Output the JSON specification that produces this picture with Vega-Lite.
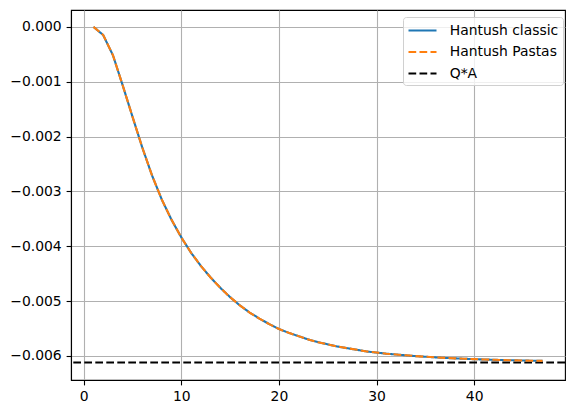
{
  "$schema": "https://vega.github.io/schema/vega-lite/v6.json",
  "width": 494,
  "height": 370,
  "autosize": "none",
  "padding": {"left": 71, "top": 10, "right": 11, "bottom": 33},
  "background": "white",
  "config": {
    "font": "DejaVu Sans",
    "view": {"stroke": "black", "strokeWidth": 1.1},
    "axis": {
      "domainColor": "black",
      "domainWidth": 1.1,
      "tickColor": "black",
      "tickWidth": 1.1,
      "tickSize": 4.9,
      "labelPadding": 4.9,
      "labelFont": "DejaVu Sans",
      "labelFontSize": 13.9,
      "labelColor": "black",
      "gridColor": "#b0b0b0",
      "gridWidth": 1.1,
      "title": null
    }
  },
  "data": {
    "values": [
      {"t": 1, "series": "Hantush classic", "value": 0},
      {"t": 2, "series": "Hantush classic", "value": -0.00015},
      {"t": 3, "series": "Hantush classic", "value": -0.00052},
      {"t": 4, "series": "Hantush classic", "value": -0.00107},
      {"t": 5, "series": "Hantush classic", "value": -0.00164},
      {"t": 6, "series": "Hantush classic", "value": -0.0022},
      {"t": 7, "series": "Hantush classic", "value": -0.00271},
      {"t": 8, "series": "Hantush classic", "value": -0.00315},
      {"t": 9, "series": "Hantush classic", "value": -0.00352},
      {"t": 10, "series": "Hantush classic", "value": -0.00384},
      {"t": 11, "series": "Hantush classic", "value": -0.00412},
      {"t": 12, "series": "Hantush classic", "value": -0.00436},
      {"t": 13, "series": "Hantush classic", "value": -0.00457},
      {"t": 14, "series": "Hantush classic", "value": -0.00476},
      {"t": 15, "series": "Hantush classic", "value": -0.00493},
      {"t": 16, "series": "Hantush classic", "value": -0.00508},
      {"t": 17, "series": "Hantush classic", "value": -0.00521},
      {"t": 18, "series": "Hantush classic", "value": -0.00532},
      {"t": 19, "series": "Hantush classic", "value": -0.00542},
      {"t": 20, "series": "Hantush classic", "value": -0.00551},
      {"t": 21, "series": "Hantush classic", "value": -0.00558},
      {"t": 22, "series": "Hantush classic", "value": -0.00564},
      {"t": 23, "series": "Hantush classic", "value": -0.0057},
      {"t": 24, "series": "Hantush classic", "value": -0.00575},
      {"t": 25, "series": "Hantush classic", "value": -0.00579},
      {"t": 26, "series": "Hantush classic", "value": -0.00583},
      {"t": 27, "series": "Hantush classic", "value": -0.00586},
      {"t": 28, "series": "Hantush classic", "value": -0.00589},
      {"t": 29, "series": "Hantush classic", "value": -0.00592},
      {"t": 30, "series": "Hantush classic", "value": -0.00594},
      {"t": 31, "series": "Hantush classic", "value": -0.00596},
      {"t": 32, "series": "Hantush classic", "value": -0.005975},
      {"t": 33, "series": "Hantush classic", "value": -0.00599},
      {"t": 34, "series": "Hantush classic", "value": -0.006004},
      {"t": 35, "series": "Hantush classic", "value": -0.006016},
      {"t": 36, "series": "Hantush classic", "value": -0.006027},
      {"t": 37, "series": "Hantush classic", "value": -0.006037},
      {"t": 38, "series": "Hantush classic", "value": -0.006045},
      {"t": 39, "series": "Hantush classic", "value": -0.006053},
      {"t": 40, "series": "Hantush classic", "value": -0.00606},
      {"t": 41, "series": "Hantush classic", "value": -0.006066},
      {"t": 42, "series": "Hantush classic", "value": -0.006072},
      {"t": 43, "series": "Hantush classic", "value": -0.006077},
      {"t": 44, "series": "Hantush classic", "value": -0.006081},
      {"t": 45, "series": "Hantush classic", "value": -0.006085},
      {"t": 46, "series": "Hantush classic", "value": -0.006089},
      {"t": 47, "series": "Hantush classic", "value": -0.006092},
      {"t": 1, "series": "Hantush Pastas", "value": 0},
      {"t": 2, "series": "Hantush Pastas", "value": -0.00015},
      {"t": 3, "series": "Hantush Pastas", "value": -0.00052},
      {"t": 4, "series": "Hantush Pastas", "value": -0.00107},
      {"t": 5, "series": "Hantush Pastas", "value": -0.00164},
      {"t": 6, "series": "Hantush Pastas", "value": -0.0022},
      {"t": 7, "series": "Hantush Pastas", "value": -0.00271},
      {"t": 8, "series": "Hantush Pastas", "value": -0.00315},
      {"t": 9, "series": "Hantush Pastas", "value": -0.00352},
      {"t": 10, "series": "Hantush Pastas", "value": -0.00384},
      {"t": 11, "series": "Hantush Pastas", "value": -0.00412},
      {"t": 12, "series": "Hantush Pastas", "value": -0.00436},
      {"t": 13, "series": "Hantush Pastas", "value": -0.00457},
      {"t": 14, "series": "Hantush Pastas", "value": -0.00476},
      {"t": 15, "series": "Hantush Pastas", "value": -0.00493},
      {"t": 16, "series": "Hantush Pastas", "value": -0.00508},
      {"t": 17, "series": "Hantush Pastas", "value": -0.00521},
      {"t": 18, "series": "Hantush Pastas", "value": -0.00532},
      {"t": 19, "series": "Hantush Pastas", "value": -0.00542},
      {"t": 20, "series": "Hantush Pastas", "value": -0.00551},
      {"t": 21, "series": "Hantush Pastas", "value": -0.00558},
      {"t": 22, "series": "Hantush Pastas", "value": -0.00564},
      {"t": 23, "series": "Hantush Pastas", "value": -0.0057},
      {"t": 24, "series": "Hantush Pastas", "value": -0.00575},
      {"t": 25, "series": "Hantush Pastas", "value": -0.00579},
      {"t": 26, "series": "Hantush Pastas", "value": -0.00583},
      {"t": 27, "series": "Hantush Pastas", "value": -0.00586},
      {"t": 28, "series": "Hantush Pastas", "value": -0.00589},
      {"t": 29, "series": "Hantush Pastas", "value": -0.00592},
      {"t": 30, "series": "Hantush Pastas", "value": -0.00594},
      {"t": 31, "series": "Hantush Pastas", "value": -0.00596},
      {"t": 32, "series": "Hantush Pastas", "value": -0.005975},
      {"t": 33, "series": "Hantush Pastas", "value": -0.00599},
      {"t": 34, "series": "Hantush Pastas", "value": -0.006004},
      {"t": 35, "series": "Hantush Pastas", "value": -0.006016},
      {"t": 36, "series": "Hantush Pastas", "value": -0.006027},
      {"t": 37, "series": "Hantush Pastas", "value": -0.006037},
      {"t": 38, "series": "Hantush Pastas", "value": -0.006045},
      {"t": 39, "series": "Hantush Pastas", "value": -0.006053},
      {"t": 40, "series": "Hantush Pastas", "value": -0.00606},
      {"t": 41, "series": "Hantush Pastas", "value": -0.006066},
      {"t": 42, "series": "Hantush Pastas", "value": -0.006072},
      {"t": 43, "series": "Hantush Pastas", "value": -0.006077},
      {"t": 44, "series": "Hantush Pastas", "value": -0.006081},
      {"t": 45, "series": "Hantush Pastas", "value": -0.006085},
      {"t": 46, "series": "Hantush Pastas", "value": -0.006089},
      {"t": 47, "series": "Hantush Pastas", "value": -0.006092},
      {"t": null, "series": "Q*A", "value": -0.00612}
    ]
  },
  "encoding": {
    "y": {
      "field": "value",
      "type": "quantitative",
      "scale": {"domain": [-0.00644, 0.000307], "nice": false, "zero": false},
      "axis": {
        "values": [0, -0.001, -0.002, -0.003, -0.004, -0.005, -0.006],
        "format": ".3f"
      }
    },
    "color": {
      "field": "series",
      "type": "nominal",
      "scale": {
        "domain": ["Hantush classic", "Hantush Pastas", "Q*A"],
        "range": ["#1f77b4", "#ff7f0e", "#000000"]
      },
      "legend": {
        "title": null,
        "orient": "none",
        "legendX": 332,
        "legendY": 7,
        "padding": 4,
        "symbolType": "M-1,0H2.5",
        "symbolSize": 256,
        "symbolStrokeWidth": 2.1,
        "symbolFillColor": "transparent",
        "labelFontSize": 13.9,
        "labelFont": "DejaVu Sans",
        "labelColor": "black",
        "labelOffset": 23.7,
        "rowPadding": 4.5,
        "strokeColor": "#d0d0d0",
        "fillColor": "rgba(255,255,255,0.8)",
        "cornerRadius": 3
      }
    },
    "strokeDash": {
      "field": "series",
      "type": "nominal",
      "scale": {
        "domain": ["Hantush classic", "Hantush Pastas", "Q*A"],
        "range": [[1, 0], [7.7, 3.3], [7.7, 3.3]]
      },
      "legend": null
    }
  },
  "layer": [
    {
      "transform": [{"filter": "datum.series == 'Q*A'"}],
      "mark": {"type": "rule", "strokeWidth": 2.1}
    },
    {
      "transform": [{"filter": "datum.series != 'Q*A'"}],
      "mark": {"type": "line", "strokeWidth": 2.1},
      "encoding": {
        "x": {
          "field": "t",
          "type": "quantitative",
          "scale": {"domain": [-1.3, 49.3], "nice": false, "zero": false},
          "axis": {"values": [0, 10, 20, 30, 40]}
        }
      }
    }
  ]
}
